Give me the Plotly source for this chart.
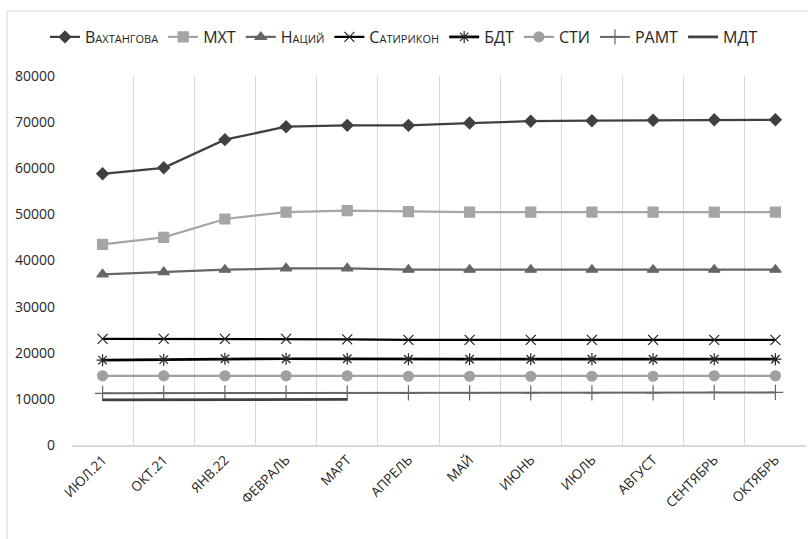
import plotly.graph_objects as go

categories = ["июл.21", "окт.21", "янв.22", "февраль", "март", "апрель",
              "май", "июнь", "июль", "август", "сентябрь", "октябрь"]

vakhtangova = [58800, 60100, 66200, 69000, 69300, 69300, 69800, 70200, 70300, 70400, 70500, 70500]
mkht = [43500, 45000, 49000, 50500, 50800, 50600, 50500, 50500, 50500, 50500, 50500, 50500]
natsiy = [37000, 37500, 38000, 38300, 38300, 38000, 38000, 38000, 38000, 38000, 38000, 38000]
satirikon = [23000, 23000, 23000, 23000, 22900, 22800, 22800, 22800, 22800, 22800, 22800, 22800]
bdt = [18400, 18500, 18700, 18700, 18700, 18600, 18600, 18600, 18600, 18600, 18600, 18600]
sti = [15000, 15000, 15000, 15000, 15000, 14900, 14900, 14900, 14900, 14900, 15000, 15000]
ramt = [11200, 11300, 11300, 11300, 11300, 11300, 11300, 11300, 11300, 11300, 11400, 11400]
mdt = [9800, 9800, 9900, 9900, 9900, None, None, None, None, None, None, None]

series = [
    ("Вахтангова", vakhtangova, "#404040", 2.25, "diamond", 9, "#404040"),
    ("МХТ", mkht, "#a5a5a5", 2.25, "square", 10, "#a5a5a5"),
    ("Наций", natsiy, "#666666", 2.25, "triangle-up", 10, "#666666"),
    ("Сатирикон", satirikon, "#000000", 2.25, "x-thin-open", 10, "#262626"),
    ("БДТ", bdt, "#000000", 2.75, "asterisk-open", 10, "#262626"),
    ("СТИ", sti, "#a0a0a0", 2.25, "circle", 10, "#a0a0a0"),
    ("РАМТ", ramt, "#666666", 2.0, "cross-thin-open", 11, "#666666"),
    ("МДТ", mdt, "#404040", 2.75, None, 0, "#404040"),
]

fig = go.Figure()
for name, vals, color, lw, sym, size, mcol in series:
    if sym is None:
        fig.add_trace(go.Scatter(x=categories, y=vals, name=name, mode="lines",
                                 line=dict(color=color, width=lw)))
    else:
        fig.add_trace(go.Scatter(x=categories, y=vals, name=name, mode="lines+markers",
                                 line=dict(color=color, width=lw),
                                 marker=dict(symbol=sym, size=size, color=mcol,
                                             line=dict(color=mcol, width=1.2))))

# outer chart frame
fig.add_shape(type="rect", xref="paper", yref="paper",
              x0=(7 - 72) / 734, x1=1.2, y0=-0.5, y1=1 + (76 - 11) / 369,
              line=dict(color="#d9d9d9", width=1), fillcolor="rgba(0,0,0,0)", layer="below")

fig.update_layout(
    width=808, height=539,
    margin=dict(l=72, r=2, t=76, b=94),
    paper_bgcolor="white", plot_bgcolor="white",
    font=dict(family="Open Sans", color="#262626"),
    showlegend=True,
    legend=dict(orientation="h", xref="container", yref="container",
                x=0.5, xanchor="center", y=1 - 37 / 539, yanchor="middle",
                font=dict(size=16, family="Open Sans", variant="small-caps", color="#262626"),
                itemwidth=30, tracegroupgap=0, traceorder="normal"),
    xaxis=dict(type="category", range=[-0.5, 11.5], tickson="boundaries",
               tickmode="array", tickvals=categories,
               ticktext=[c.upper() for c in categories],
               showgrid=True, gridcolor="#d9d9d9", gridwidth=1,
               showline=True, linecolor="#d9d9d9", linewidth=1.5,
               ticks="", tickangle=-45,
               tickfont=dict(size=13.5, family="Open Sans", color="#262626")),
    yaxis=dict(range=[0, 80000], dtick=10000, showgrid=False, zeroline=False,
               showline=False, ticks="", tickformat="d", ticklabelstandoff=16,
               tickfont=dict(size=14, family="Open Sans", color="#262626")),
)

fig.write_html("out.html")
